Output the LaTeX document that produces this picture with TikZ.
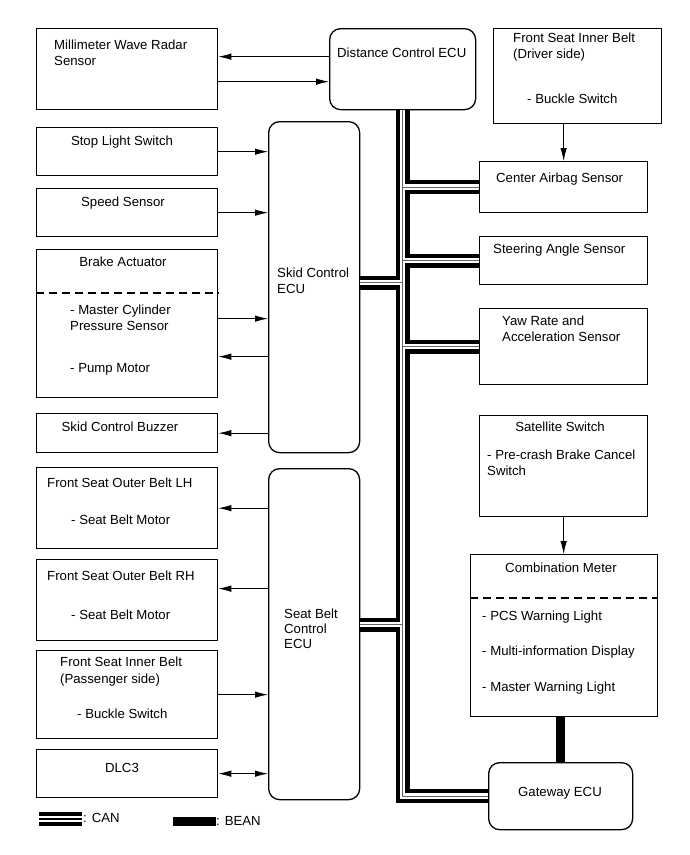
\documentclass[tikz,border=0pt]{standalone}
\usepackage{fontspec}
\setmainfont{Liberation Sans}
\usetikzlibrary{arrows.meta}

\begin{document}
\begin{tikzpicture}[x=1pt, y=-1pt,
  unit/.style 2 args={draw, line width=1.3pt, anchor=north west, inner sep=0pt, minimum width=#1pt, minimum height=#2pt},
  ecu/.style 2 args={unit={#1}{#2}, rounded corners=11pt},
  lbl/.style={font=\fontsize{13.2}{16}\selectfont, inner sep=0pt, anchor=west, text height=9.5pt, text depth=0pt},
  ctr/.style={lbl, anchor=center},
  arr/.style={-{Latex[length=13pt,width=6.5pt]}, line width=0.9pt},
  twoway/.style={{Latex[length=13pt,width=6.5pt]}-{Latex[length=13pt,width=6.5pt]}, line width=0.9pt},
  divider/.style={dash pattern=on 8pt off 5pt, line width=1.3pt},
  bean/.style={line width=9pt}]
\useasboundingbox (0,0) rectangle (690,855);
% boxes
\node[unit={181}{81}] (radar) at (36,28) {};
\node[ecu={146}{81}] (dce) at (329,28) {};
\node[unit={168}{95}] (drvbelt) at (493,28) {};
\node[unit={181}{48}] (stop) at (36,127) {};
\node[unit={181}{48}] (speed) at (36,188) {};
\node[unit={181}{148}] (brake) at (36,249) {};
\node[unit={181}{39}] (buzzer) at (36,413) {};
\node[unit={181}{81}] (outlh) at (36,467) {};
\node[unit={181}{81}] (outrh) at (36,559) {};
\node[unit={181}{88}] (pasbelt) at (36,650) {};
\node[unit={181}{48}] (dlc) at (36,749) {};
\node[ecu={91}{331}] (skid) at (268,121) {};
\node[ecu={91}{331}] (belt) at (268,468) {};
\node[unit={168}{51}] (airbag) at (479,161) {};
\node[unit={168}{48}] (steer) at (479,236) {};
\node[unit={168}{76}] (yaw) at (479,308) {};
\node[unit={168}{101}] (sat) at (479,415) {};
\node[unit={187}{162}] (meter) at (470,554) {};
\node[ecu={144}{67}] (gw) at (488,762) {};
\draw[divider] ([yshift=-44pt]brake.north west) -- ([yshift=-44pt]brake.north east);
\draw[divider] ([yshift=-44pt]meter.north west) -- ([yshift=-44pt]meter.north east);
% texts
\node[lbl] (radarT1) at (54,45) {Millimeter Wave Radar};
\node[lbl] (radarT2) at (54,61) {Sensor};
\node[lbl] (dceT) at (337,53) {Distance Control ECU};
\node[lbl] (drvT1) at (513,38) {Front Seat Inner Belt};
\node[lbl] (drvT2) at (513,54) {(Driver side)};
\node[lbl] (drvT3) at (527,99) {- Buckle Switch};
\node[ctr] (stopT) at (122,141) {Stop Light Switch};
\node[ctr] (speedT) at (123,202) {Speed Sensor};
\node[ctr] (brakeT) at (123,262) {Brake Actuator};
\node[lbl] (brakeT1) at (70,310) {- Master Cylinder};
\node[lbl] (brakeT2) at (70,326) {Pressure Sensor};
\node[lbl] (brakeT3) at (70,368) {- Pump Motor};
\node[ctr] (buzzerT) at (120,427) {Skid Control Buzzer};
\node[lbl] (outlhT1) at (47,483) {Front Seat Outer Belt LH};
\node[lbl] (outlhT2) at (71,520) {- Seat Belt Motor};
\node[lbl] (outrhT1) at (47,576) {Front Seat Outer Belt RH};
\node[lbl] (outrhT2) at (71,615) {- Seat Belt Motor};
\node[lbl] (pasT1) at (60,662) {Front Seat Inner Belt};
\node[lbl] (pasT2) at (60,679) {(Passenger side)};
\node[lbl] (pasT3) at (77,714) {- Buckle Switch};
\node[ctr] (dlcT) at (122,768) {DLC3};
\node[lbl] (skidT1) at (277,273) {Skid Control};
\node[lbl] (skidT2) at (277,289) {ECU};
\node[lbl] (beltT1) at (284,614) {Seat Belt};
\node[lbl] (beltT2) at (284,629) {Control};
\node[lbl] (beltT3) at (284,644) {ECU};
\node[lbl] (airbagT) at (496,178) {Center Airbag Sensor};
\node[lbl] (steerT) at (493,249) {Steering Angle Sensor};
\node[lbl] (yawT1) at (502,321) {Yaw Rate and};
\node[lbl] (yawT2) at (502,337) {Acceleration Sensor};
\node[ctr] (satT) at (560,427) {Satellite Switch};
\node[lbl] (satT1) at (487,455) {- Pre-crash Brake Cancel};
\node[lbl] (satT2) at (487,471) {Switch};
\node[ctr] (meterT) at (561,568) {Combination Meter};
\node[lbl] (meterT1) at (482,616) {- PCS Warning Light};
\node[lbl] (meterT2) at (482,651) {- Multi-information Display};
\node[lbl] (meterT3) at (482,687) {- Master Warning Light};
\node[ctr] (gwT) at (560,792) {Gateway ECU};
\node[lbl] (canT) at (83,818) {: CAN};
\node[lbl] (beanT) at (216,821) {: BEAN};
% signal lines
\coordinate (radarout) at ([yshift=12.5pt]dce.west);
\coordinate (radarin) at ([yshift=-12.5pt]radar.east);
\coordinate (brakeout) at ([yshift=5pt]brake.east);
\coordinate (brakein) at ([yshift=-33pt]brake.east);
\coordinate (rhin) at ([yshift=11.5pt]outrh.east);
\draw[arr] (radarout) -- (radarout -| radar.east);
\draw[arr] (radarin) -- (radarin -| dce.west);
\draw[arr] (stop.east) -- (stop.east -| skid.west);
\draw[arr] (speed.east) -- (speed.east -| skid.west);
\draw[arr] (brakeout) -- (brakeout -| skid.west);
\draw[arr] (brakein -| skid.west) -- (brakein);
\draw[arr] (buzzer.east -| skid.west) -- (buzzer.east);
\draw[arr] (outlh.east -| belt.west) -- (outlh.east);
\draw[arr] (rhin -| belt.west) -- (rhin);
\draw[arr] (pasbelt.east) -- (pasbelt.east -| belt.west);
\draw[twoway] (dlc.east) -- (dlc.east -| belt.west);
\draw[arr] (airbag.north |- drvbelt.south) -- (airbag.north);
\draw[arr] (sat.south) -- (sat.south |- meter.north);
% CAN bus
\coordinate (jskid) at ([yshift=4.5pt]skid.east);
\coordinate (jbelt) at ([yshift=9.5pt]belt.east);
\foreach \w/\c in {14pt/black, 5.5pt/white, 0.8pt/black!60}
  \draw[line width=\w, draw=\c]
    (dce.south) -- (dce.south |- gw.west) -- (gw.west)
    (dce.south |- airbag.west) -- (airbag.west)
    (dce.south |- steer.west) -- (steer.west)
    (dce.south |- yaw.west) -- (yaw.west)
    (dce.south |- jskid) -- (jskid)
    (dce.south |- jbelt) -- (jbelt);
% BEAN
\draw[bean] (gw.north |- meter.south) -- (gw.north);
% legend
\coordinate (canA) at (39,819);
\coordinate (canB) at (82,819);
\foreach \w/\c in {14pt/black, 6pt/white, 2.5pt/black}
  \draw[line width=\w, draw=\c] (canA) -- (canB);
\coordinate (beanA) at (173,817);
\coordinate (beanB) at (216,826);
\fill (beanA) rectangle (beanB);
\end{tikzpicture}
\end{document}
